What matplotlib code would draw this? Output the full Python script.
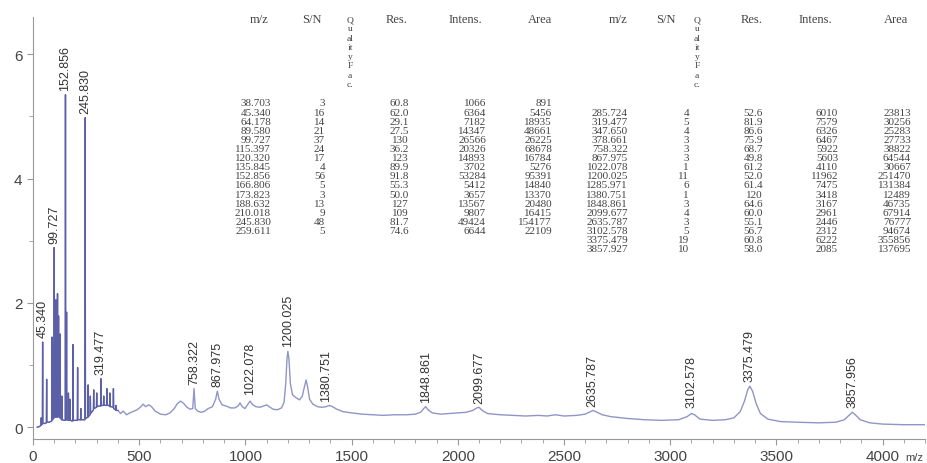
import numpy as np
from matplotlib import pyplot as plt
from matplotlib.ticker import MultipleLocator

# spectrum trace (m/z, intensity x10^4)
mz = [
    20, 30, 37.5, 38.7, 39.9, 44.2, 45.3, 46.5, 55, 63.0, 64.2, 65.4, 76, 88.4, 89.6, 90.8,
    94, 95.2, 96.4, 98.6, 99.7, 100.9, 106.8, 108.0, 109.2, 114.2, 115.4, 116.6, 119.1, 120.3,
    121.5, 126.8, 128.0, 129.2, 134.6, 135.8, 137.0, 146, 151.7, 152.9, 154.1, 156.8, 158.0,
    159.2, 165.6, 166.8, 168.0, 172.6, 173.8, 175.0, 182, 187.4, 188.6, 189.8, 198, 208.8,
    210.0, 211.2, 223.8, 225.0, 226.2, 236, 244.6, 245.8, 247.0, 252, 258.4, 259.6, 260.8,
    268.8, 270.0, 271.2, 278, 284.5, 285.7, 286.9, 293, 298.8, 300.0, 301.2, 310, 318.3, 319.5,
    320.7, 331.8, 333.0, 334.2, 340, 346.5, 347.7, 348.9, 355, 360.8, 362.0, 363.2, 370,
    377.5, 378.7, 379.9, 388.8, 390.0, 391.2, 400, 412, 425, 440, 456, 470, 490, 505, 519,
    530, 545, 558, 575, 600, 625, 645, 665, 680, 695, 710, 725, 740, 752, 758.3, 764, 775,
    790, 805, 825, 845, 860, 868, 876, 890, 910, 930, 950, 965, 975, 985, 998, 1010, 1022,
    1035, 1050, 1068, 1085, 1100, 1112, 1130, 1150, 1170, 1182, 1190, 1196, 1200, 1205, 1212,
    1222, 1240, 1255, 1268, 1278, 1286, 1293, 1302, 1318, 1340, 1360, 1380, 1395, 1410, 1430,
    1460, 1500, 1550, 1600, 1650, 1700, 1760, 1800, 1825, 1840, 1849, 1860, 1880, 1920, 1960,
    2000, 2040, 2070, 2090, 2100, 2115, 2140, 2200, 2260, 2320, 2380, 2420, 2460, 2500, 2560,
    2600, 2625, 2636, 2650, 2680, 2720, 2800, 2880, 2960, 3040, 3080, 3100, 3115, 3140, 3200,
    3260, 3300, 3330, 3350, 3365, 3375, 3388, 3405, 3425, 3460, 3520, 3600, 3700, 3780, 3820,
    3845, 3858, 3872, 3895, 3940, 4000, 4100, 4200,
]
intensity = [
    0.0, 0.01, 0.03, 0.15, 0.04, 0.05, 1.37, 0.06, 0.06, 0.07, 0.77, 0.08, 0.08, 0.10, 1.45, 0.12,
    0.13, 1.30, 0.14, 0.15, 2.89, 0.18, 0.16, 2.05, 0.17, 0.16, 2.15, 0.17, 0.17, 1.79,
    0.17, 0.15, 1.50, 0.16, 0.12, 0.50, 0.12, 0.11, 0.11, 5.35, 0.12, 0.12, 1.85,
    0.12, 0.11, 0.55, 0.11, 0.11, 0.45, 0.12, 0.10, 0.10, 1.33, 0.11, 0.11, 0.11,
    0.96, 0.12, 0.12, 0.30, 0.12, 0.12, 0.12, 4.98, 0.14, 0.15, 0.16, 0.68, 0.17,
    0.20, 0.50, 0.22, 0.25, 0.28, 0.60, 0.30, 0.31, 0.32, 0.55, 0.33, 0.34, 0.34, 0.78,
    0.35, 0.35, 0.50, 0.36, 0.35, 0.35, 0.62, 0.36, 0.35, 0.34, 0.55, 0.33, 0.33,
    0.32, 0.62, 0.30, 0.28, 0.35, 0.27, 0.27, 0.22, 0.26, 0.20, 0.23, 0.25, 0.28, 0.32, 0.37,
    0.33, 0.36, 0.33, 0.26, 0.21, 0.20, 0.23, 0.30, 0.38, 0.42, 0.38, 0.32, 0.29, 0.30, 0.62, 0.30, 0.26,
    0.24, 0.25, 0.30, 0.33, 0.45, 0.58, 0.45, 0.36, 0.34, 0.31, 0.31, 0.34, 0.39, 0.33, 0.30, 0.36, 0.42,
    0.36, 0.33, 0.32, 0.34, 0.36, 0.33, 0.29, 0.28, 0.31, 0.40, 0.70, 1.10, 1.22, 1.10, 0.70,
    0.52, 0.47, 0.44, 0.50, 0.65, 0.76, 0.65, 0.45, 0.37, 0.33, 0.32, 0.33, 0.35, 0.33, 0.29,
    0.25, 0.23, 0.21, 0.20, 0.19, 0.20, 0.20, 0.21, 0.24, 0.30, 0.33, 0.28, 0.23, 0.21, 0.22,
    0.23, 0.24, 0.27, 0.31, 0.32, 0.27, 0.22, 0.20, 0.19, 0.18, 0.19, 0.18, 0.20, 0.18, 0.19,
    0.21, 0.25, 0.27, 0.25, 0.20, 0.17, 0.14, 0.12, 0.11, 0.12, 0.17, 0.22, 0.20, 0.13, 0.11,
    0.12, 0.15, 0.25, 0.42, 0.60, 0.66, 0.58, 0.38, 0.22, 0.13, 0.09, 0.08, 0.07, 0.08, 0.12,
    0.20, 0.24, 0.20, 0.12, 0.07, 0.05, 0.04, 0.04,
]

# labelled peaks
peak_labels = ['45.340', '99.727', '152.856', '245.830', '319.477', '758.322', '867.975',
               '1022.078', '1200.025', '1380.751', '1848.861', '2099.677', '2635.787',
               '3102.578', '3375.479', '3857.956']
peak_mz = [45.34, 99.727, 152.856, 245.83, 319.477, 758.322, 867.975, 1022.078, 1200.025,
           1380.751, 1848.861, 2099.677, 2635.787, 3102.578, 3375.479, 3857.956]
peak_top = [1.38, 2.90, 5.36, 4.99, 0.79, 0.63, 0.59, 0.46, 1.24, 0.36, 0.34, 0.33, 0.28,
            0.26, 0.67, 0.25]

# peak table (two blocks)
headers = ['m/z', 'S/N', 'Q', 'Res.', 'Intens.', 'Area']
quality_header = ['Q', 'u', 'al', 'it', 'y', 'F', 'a', 'c.']
mz_left = ['38.703', '45.340', '64.178', '89.580', '99.727', '115.397', '120.320', '135.845',
           '152.856', '166.806', '173.823', '188.632', '210.018', '245.830', '259.611']
sn_left = ['3', '16', '14', '21', '37', '24', '17', '4', '56', '5', '3', '13', '9', '48', '5']
res_left = ['60.8', '62.0', '29.1', '27.5', '130', '36.2', '123', '89.9', '91.8', '55.3',
            '50.0', '127', '109', '81.7', '74.6']
intens_left = ['1066', '6364', '7182', '14347', '26566', '20326', '14893', '3702', '53284',
               '5412', '3657', '13567', '9807', '49424', '6644']
area_left = ['891', '5456', '18935', '48661', '26225', '68678', '16784', '5276', '95391',
             '14840', '13370', '20480', '16415', '154177', '22109']
mz_right = ['285.724', '319.477', '347.650', '378.661', '758.322', '867.975', '1022.078',
            '1200.025', '1285.971', '1380.751', '1848.861', '2099.677', '2635.787', '3102.578',
            '3375.479', '3857.927']
sn_right = ['4', '5', '4', '3', '3', '3', '1', '11', '6', '1', '3', '4', '3', '5', '19', '10']
res_right = ['52.6', '81.9', '86.6', '75.9', '68.7', '49.8', '61.2', '52.0', '61.4', '120',
             '64.6', '60.0', '55.1', '56.7', '60.8', '58.0']
intens_right = ['6010', '7579', '6326', '6467', '5922', '5603', '4110', '11962', '7475', '3418',
                '3167', '2961', '2446', '2312', '6222', '2085']
area_right = ['23813', '30256', '25283', '27733', '38822', '64544', '30667', '251470', '131384',
              '12489', '46735', '67914', '76777', '94674', '355856', '137695']

W, H = 928, 464
plt.rcParams['font.family'] = ['Liberation Sans', 'DejaVu Sans']
fig = plt.figure(figsize=(W / 100, H / 100), dpi=100)
ax = fig.add_axes([33 / W, 1 - 440 / H, (925 - 33) / W, (440 - 18) / H])

mz_arr = np.array(mz)
int_arr = np.array(intensity)
ax.plot(mz_arr, int_arr, color='#9095c8', lw=1.0)
low = mz_arr <= 400
ax.plot(mz_arr[low], int_arr[low], color='#5a5fa8', lw=0.9)

for lab, x, y in zip(peak_labels, peak_mz, peak_top):
    ax.annotate(lab, (x, y), xytext=(0, 3), textcoords='offset points', rotation=90,
                ha='center', va='bottom', fontsize=9, color='#333333')

ax.set_xlim(0, 4200)
ax.set_ylim(-0.19, 6.6)
ax.xaxis.set_major_locator(MultipleLocator(500))
ax.xaxis.set_minor_locator(MultipleLocator(100))
ax.yaxis.set_major_locator(MultipleLocator(2))
ax.yaxis.set_minor_locator(MultipleLocator(1))
for s in ('top', 'right'):
    ax.spines[s].set_visible(False)
for s in ('left', 'bottom'):
    ax.spines[s].set_color('#999999')
ax.tick_params(which='both', colors='#999999', labelcolor='#444444', labelsize=11)
ax.tick_params(which='major', length=4)
ax.tick_params(which='minor', length=3)
ax.set_facecolor('none')
fig.text(905 / W, 1 - 458 / H, 'm/z', fontsize=8, color='#444444', va='center')


def put(x, y, s, ha='right', size=8):
    fig.text(x / W, 1 - y / H, s, ha=ha, va='center', fontsize=size,
             family=['Liberation Serif', 'DejaVu Serif'], color='#444444')


# table headers
head_x = [(259, 312, 350, 397, 465, 540), (618, 666, 697, 752, 815, 896)]
for xs in head_x:
    for hx, h in zip(xs, headers):
        if h == 'Q':
            for k, q in enumerate(quality_header):
                put(hx, 20 + 9.3 * k, q, ha='center', size=6.8)
        else:
            put(hx, 20, h, ha='center', size=9)

row0, dy = 104, 9.1
left_cols = [(271, mz_left), (325, sn_left), (409, res_left), (486, intens_left), (552, area_left)]
for cx, col in left_cols:
    for i, v in enumerate(col):
        put(cx, row0 + dy * i, v)
right_cols = [(628, mz_right), (689, sn_right), (763, res_right), (838, intens_right),
              (911, area_right)]
for cx, col in right_cols:
    for i, v in enumerate(col):
        put(cx, row0 + dy * (i + 1), v)

fig.savefig('out.png', dpi=100)
